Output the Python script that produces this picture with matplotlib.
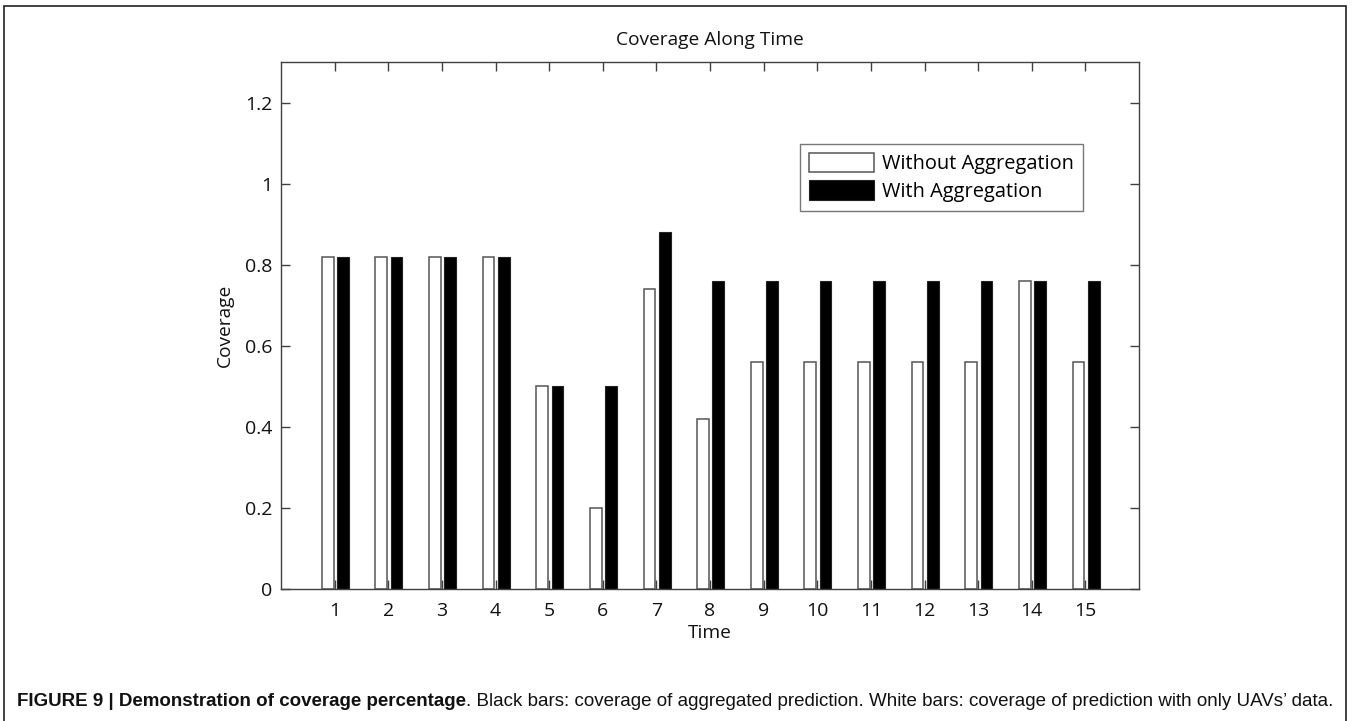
import matplotlib
matplotlib.use("Agg")
import matplotlib.pyplot as plt
from matplotlib.patches import Rectangle
import numpy as np

times = list(range(1, 16))
without_agg = [0.82, 0.82, 0.82, 0.82, 0.50, 0.20, 0.74, 0.42, 0.56, 0.56, 0.56, 0.56, 0.56, 0.76, 0.56]
with_agg = [0.82, 0.82, 0.82, 0.82, 0.50, 0.50, 0.88, 0.76, 0.76, 0.76, 0.76, 0.76, 0.76, 0.76, 0.76]
yticks = [0, 0.2, 0.4, 0.6, 0.8, 1, 1.2]
ytick_labels = ["0", "0.2", "0.4", "0.6", "0.8", "1", "1.2"]
title = "Coverage Along Time"
xlabel = "Time"
ylabel = "Coverage"
legend_labels = ["Without Aggregation", "With Aggregation"]
caption_bold = "FIGURE 9 | Demonstration of coverage percentage"
caption_rest = ". Black bars: coverage of aggregated prediction. White bars: coverage of prediction with only UAVs\u2019 data."

W, H = 1352, 721
fig = plt.figure(figsize=(W / 100, H / 100), dpi=100)
fig.patch.set_facecolor("white")

def fx(px):
    return px / W

def fy(py):
    return 1 - py / H

ax_l, ax_r, ax_t, ax_b = 281, 1139, 62, 589
ax = fig.add_axes([fx(ax_l), fy(ax_b), fx(ax_r) - fx(ax_l), fy(ax_t) - fy(ax_b)])

font = "Open Sans"
grey = "#404040"

x = np.array(times, dtype=float)
bw = 0.22
ax.bar(x - 0.13, without_agg, width=bw, color="white", edgecolor="#555555", linewidth=1.1,
       label=legend_labels[0], zorder=2)
ax.bar(x + 0.155, with_agg, width=bw, color="black", edgecolor="#222222", linewidth=0.8,
       label=legend_labels[1], zorder=2)

ax.set_xlim(0, 16)
ax.set_ylim(0, 1.3)
ax.set_xticks(times)
ax.set_xticklabels([str(t) for t in times], fontfamily=font, fontsize=14)
ax.set_yticks(yticks)
ax.set_yticklabels(ytick_labels, fontfamily=font, fontsize=14)
ax.tick_params(direction="in", length=6.5, width=1.0, color=grey, top=True, right=True,
               pad=6, labelcolor="#111111")
ax.tick_params(axis="x", pad=9)
for s in ax.spines.values():
    s.set_color(grey)
    s.set_linewidth(1.0)

ax.set_title(title, fontfamily=font, fontsize=13.8, color="#111111", pad=12)
ax.set_xlabel(xlabel, fontfamily=font, fontsize=13.8, color="#111111", labelpad=3)
ax.set_ylabel(ylabel, fontfamily=font, fontsize=13.8, color="#111111", labelpad=8)

leg = ax.legend(loc="upper left", bbox_to_anchor=(fx(800), fy(144)), bbox_transform=fig.transFigure,
                prop={"family": font, "size": 14.4}, frameon=True, fancybox=False,
                edgecolor="#555555", handlelength=3.25, handleheight=1.1, borderpad=0.45,
                labelspacing=0.3, handletextpad=0.4, borderaxespad=0)
leg.get_frame().set_linewidth(1.0)

# outer border
border = Rectangle((fx(4), -0.05), fx(1346) - fx(4), fy(6) + 0.05, transform=fig.transFigure,
                   fill=False, edgecolor="#222222", linewidth=1.2, clip_on=False)
fig.patches.append(border)

# caption, sized to span the same width as the reference
cap_family = ["Liberation Sans Narrow", "Liberation Sans"]
cap_y = fy(702)
target_w = 1336 - 17
fs = 12.0
fig.canvas.draw()
r = fig.canvas.get_renderer()
for _ in range(2):
    ta = fig.text(0, 0, caption_bold, fontfamily=cap_family, fontweight="bold", fontsize=fs)
    tb = fig.text(0, 0, caption_rest, fontfamily=cap_family, fontsize=fs)
    wtot = ta.get_window_extent(r).width + tb.get_window_extent(r).width
    ta.remove()
    tb.remove()
    fs = fs * target_w / wtot

t1 = fig.text(fx(17), cap_y, caption_bold, fontfamily=cap_family, fontweight="bold",
              fontsize=fs, va="center", ha="left", color="#111111")
bb = t1.get_window_extent(r)
t2 = fig.text(bb.x1 / W, cap_y, caption_rest, fontfamily=cap_family, fontsize=fs,
              va="center", ha="left", color="#111111")

fig.savefig("out.png", dpi=100)
